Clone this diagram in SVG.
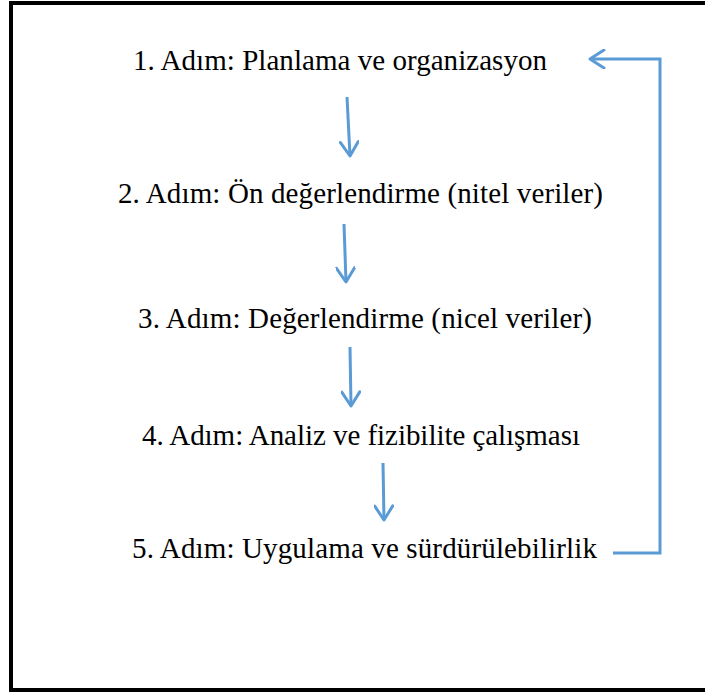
<svg xmlns="http://www.w3.org/2000/svg" width="705" height="693" viewBox="0 0 705 693">
<style>
.t{font-family:"Liberation Serif","Times New Roman",serif;font-size:29px;fill:#000}
.c{fill:none;stroke:#5B9BD5;stroke-width:3}
</style>
<defs>
<marker id="ah" viewBox="0 0 20 20" refX="18" refY="10" markerWidth="20" markerHeight="20" markerUnits="userSpaceOnUse" orient="auto">
<polyline points="4,1 18,10 4,19" fill="none" stroke="#5B9BD5" stroke-width="3" stroke-linecap="round" stroke-linejoin="round"/>
</marker>
</defs>
<rect x="0" y="0" width="705" height="693" fill="#fff"/>
<rect x="11" y="3" width="700" height="687" fill="none" stroke="#000" stroke-width="4"/>
<g id="n1"><text class="t" x="133" y="70" textLength="414" lengthAdjust="spacing">1. Adım: Planlama ve organizasyon</text></g>
<g id="n2"><text class="t" x="118" y="203" textLength="485" lengthAdjust="spacing">2. Adım: Ön değerlendirme (nitel veriler)</text></g>
<g id="n3"><text class="t" x="138" y="328" textLength="454" lengthAdjust="spacing">3. Adım: Değerlendirme (nicel veriler)</text></g>
<g id="n4"><text class="t" x="142" y="445" textLength="438" lengthAdjust="spacing">4. Adım: Analiz ve fizibilite çalışması</text></g>
<g id="n5"><text class="t" x="132" y="558" textLength="465" lengthAdjust="spacing">5. Adım: Uygulama ve sürdürülebilirlik</text></g>
<g id="connectors">
<line class="c" x1="347" y1="97" x2="350" y2="156" marker-end="url(#ah)"/>
<line class="c" x1="344" y1="224" x2="346" y2="282" marker-end="url(#ah)"/>
<line class="c" x1="350" y1="347" x2="351" y2="406" marker-end="url(#ah)"/>
<line class="c" x1="383" y1="463" x2="384" y2="520" marker-end="url(#ah)"/>
<polyline class="c" points="613,553 660,553 660,59 590,59" marker-end="url(#ah)"/>
</g>
</svg>
